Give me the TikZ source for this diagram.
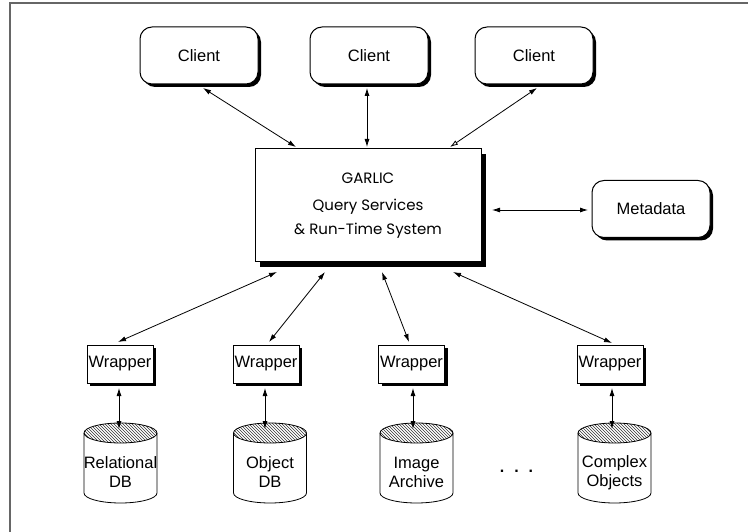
\documentclass[tikz,border=0pt]{standalone}
\usepackage{fontspec}
\setmainfont{Liberation Sans}
\newfontfamily\geofont{Poppins}
\usetikzlibrary{arrows.meta,shadows,patterns}
\newcommand\dbcyl[3]{%
  \begin{scope}[xshift=#1pt]
    \draw[line width=0.8pt,pattern=north west lines,pattern color=black!80] (0,433) ellipse [x radius=36.5,y radius=10];
    \draw[line width=0.8pt] (-36.5,433) -- (-36.5,493) arc[start angle=180,end angle=0,x radius=36.5,y radius=10] -- (36.5,433);
  \end{scope}
  \node[lbl] (#2) at (#1,472.5) {#3};
  \coordinate (#2top) at (#1,423);
}
\begin{document}
\begin{tikzpicture}[x=1pt,y=-1pt,
  lbl/.style={font=\fontsize{16.5}{19}\selectfont,align=center,inner sep=0pt},
  shbox/.style={draw,line width=1pt,fill=white,inner sep=0pt,
    drop shadow={shadow xshift=3pt,shadow yshift=-3pt,fill=black,opacity=1}},
  client/.style={shbox,rounded corners=12pt,minimum width=118pt,minimum height=57pt,font=\fontsize{16.5}{19}\selectfont},
  wrap/.style={shbox,minimum width=66pt,minimum height=38pt,font=\fontsize{16.5}{19}\selectfont},
  core/.style={draw,line width=1pt,fill=white,inner sep=0pt,align=center,
    minimum width=226pt,minimum height=113pt,font=\geofont\fontsize{15}{24}\selectfont,
    drop shadow={shadow xshift=5pt,shadow yshift=-5pt,fill=black,opacity=1}},
  tip/.tip={Latex[length=8pt,width=5pt]},
  conn/.style={line width=0.8pt,tip-tip},
  connopen/.style={line width=0.8pt,{Latex[open,length=8pt,width=5pt]}-tip}
]
\useasboundingbox (0,0) rectangle (748,532);
\draw[black!60,line width=1.5pt] (10,532) -- (10,3) -- (748,3);

% clients
\node[client] (c1) at (199,55.5) {Client};
\node[client] (c2) at (369,55.5) {Client};
\node[client] (c3) at (534,55.5) {Client};

% core
\node[core] (garlic) at (368,205.5) {GARLIC\\[3pt]Query Services\\\& Run-Time System};

% metadata
\node[client] (meta) at (651,209) {Metadata};

% wrappers
\node[wrap] (w1) at (120,364) {Wrapper};
\node[wrap] (w2) at (266,364) {Wrapper};
\node[wrap] (w3) at (411.5,364) {Wrapper};
\node[wrap] (w4) at (610,364) {Wrapper};

% databases
\dbcyl{120.5}{d1}{Relational\\DB}
\dbcyl{270}{d2}{Object\\DB}
\dbcyl{416.5}{d3}{Image\\Archive}
\dbcyl{614.5}{d4}{Complex\\Objects}
\node[lbl,font=\fontsize{16}{19}\selectfont\bfseries] (dots) at (516.5,471) {.\hspace{10pt}.\hspace{10pt}.};

% connector end points
\coordinate (c1b) at (203,88);   \coordinate (g1) at (296,147);
\coordinate (c2b) at (367,88);   \coordinate (g2) at (367,147);
\coordinate (c3b) at (537,88);   \coordinate (g3) at (450,147);
\coordinate (gm) at (492,210);   \coordinate (mw) at (588,210);
\coordinate (gb1) at (277,272);  \coordinate (w1t) at (118,342);
\coordinate (gb2) at (325,272);  \coordinate (w2t) at (269,342);
\coordinate (gb3) at (382,272);  \coordinate (w3t) at (409,342);
\coordinate (gb4) at (453,272);  \coordinate (w4t) at (612,343);
\coordinate (w1b) at (119,388);  \coordinate (d1t) at (119,429);
\coordinate (w2b) at (265,388);  \coordinate (d2t) at (265,429);
\coordinate (w3b) at (413,388);  \coordinate (d3t) at (413,429);
\coordinate (w4b) at (612,388);  \coordinate (d4t) at (612,429);

\draw[conn] (c1b) -- (g1);
\draw[conn] (c2b) -- (g2);
\draw[connopen] (g3) -- (c3b);
\draw[conn] (gm) -- (mw);
\draw[conn] (gb1) -- (w1t);
\draw[conn] (gb2) -- (w2t);
\draw[conn] (gb3) -- (w3t);
\draw[conn] (gb4) -- (w4t);
\draw[conn] (w1b) -- (d1t);
\draw[conn] (w2b) -- (d2t);
\draw[conn] (w3b) -- (d3t);
\draw[conn] (w4b) -- (d4t);
\end{tikzpicture}
\end{document}
